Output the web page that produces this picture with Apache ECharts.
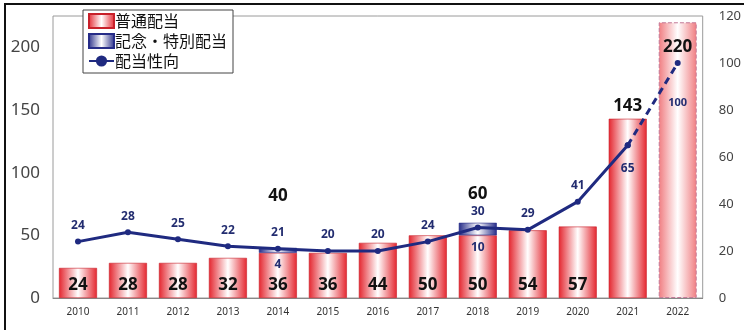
<!DOCTYPE html>
<html><head><meta charset="utf-8">
<script src="https://cdn.jsdelivr.net/npm/echarts@6/dist/echarts.min.js"></script>
<style>html,body{margin:0;padding:0;background:#fff}#c{width:744px;height:330px}</style>
</head><body><div id="c"></div>
<script>
var categories = ['2010','2011','2012','2013','2014','2015','2016','2017','2018','2019','2020','2021','2022'];
var ordinary = [24,28,28,32,36,36,44,50,50,54,57,143,220];
var special = [0,0,0,0,4,0,0,0,10,0,0,0,0];
var totals = [null,null,null,null,40,null,null,null,60,null,null,143,220];
var payout = [24,28,25,22,21,20,20,24,30,29,41,65,100];
var forecastIndex = 12;

var NUM = '"Noto Sans", sans-serif';
var JP = '"Noto Sans CJK JP", sans-serif';
function grad(edge){
  return new echarts.graphic.LinearGradient(0,0,1,0,[{offset:0,color:edge},{offset:0.5,color:'#ffffff'},{offset:1,color:edge}]);
}
var red = grad('#e4262f');
var pale = grad('#f07c80');
var blue = grad('#262c88');

var ordData = ordinary.map(function(v,i){
  var d = {value:v};
  if(i===forecastIndex){
    d.itemStyle = {color:pale, borderColor:'#c47a98', borderType:'dashed', borderWidth:1};
    d.label = {show:false};
  } else if(totals[i]!=null && i>=11){
    d.label = {show:false};
  }
  return d;
});
var spData = special.map(function(v,i){
  return v ? {value:v, label:{show:true}} : {value:v, label:{show:false}, itemStyle:{borderWidth:0, opacity:0}};
});
var solidLine = payout.map(function(v,i){ return i<=11 ? v : null; });
var dashLine = payout.map(function(v,i){ return i>=11 ? v : null; });
var totalData = totals.map(function(v,i){
  if(v==null) return null;
  var lab = {show:true, position:'top', distance:4};
  if(i===4) lab.distance = 43;
  if(i===8) lab.distance = 20;
  if(i===12){ lab.position='bottom'; lab.distance = 16; }
  return {value:v, label:lab};
});

var chart = echarts.init(document.getElementById('c'), null, {renderer:'canvas'});
chart.setOption({
  animation:false,
  grid:{left:53, right:39, top:16, bottom:32, show:true, borderColor:'#9a9a9a', borderWidth:1},
  graphic:[{type:'rect', shape:{x:5,y:4,width:760,height:360}, style:{fill:'none', stroke:'#111', lineWidth:2}, z:100}],
  legend:{
    data:[{name:'普通配当', icon:'rect'},{name:'記念・特別配当', icon:'rect'},{name:'配当性向'}],
    orient:'vertical', left:83, top:10, padding:[3,6,4,5], itemGap:4,
    itemWidth:25, itemHeight:14,
    backgroundColor:'#fff', borderColor:'#444', borderWidth:1,
    textStyle:{fontFamily:JP, fontSize:16, color:'#111', padding:[0,0,0,-4]}
  },
  xAxis:{type:'category', data:categories,
    axisLine:{show:true, lineStyle:{color:'#888'}}, axisTick:{show:false},
    axisLabel:{fontFamily:NUM, fontSize:10, color:'#333', margin:9}},
  yAxis:[
    {type:'value', min:0, max:225, interval:50, position:'left',
     splitLine:{show:false}, axisLine:{show:false}, axisTick:{show:false},
     axisLabel:{showMaxLabel:false, fontFamily:NUM, fontSize:17, color:'#444', margin:13}},
    {type:'value', min:0, max:120, interval:20, position:'right',
     splitLine:{show:false}, axisLine:{show:false}, axisTick:{show:false},
     axisLabel:{fontFamily:NUM, fontSize:13, color:'#444', margin:16}}
  ],
  series:[
    {name:'普通配当', type:'bar', stack:'d', barWidth:38, data:ordData,
     itemStyle:{color:red, borderColor:'#c8202a', borderWidth:0.6},
     label:{show:true, position:'insideBottom', distance:4, fontFamily:NUM, fontWeight:'bold', fontSize:17, color:'#111'}},
    {name:'記念・特別配当', type:'bar', stack:'d', barWidth:38, data:spData,
     itemStyle:{color:blue, borderColor:'#262c88', borderWidth:0.6},
     label:{position:'bottom', distance:6, fontFamily:NUM, fontWeight:'bold', fontSize:12, color:'#232d70'}},
    {name:'total', type:'scatter', symbolSize:0, data:totalData, silent:true,
     itemStyle:{opacity:1, color:'rgba(0,0,0,0)'},
     label:{fontFamily:NUM, fontWeight:'bold', fontSize:17, color:'#111'}},
    {name:'配当性向', type:'line', yAxisIndex:1, data:solidLine, connectNulls:false,
     symbol:'circle', symbolSize:6, z:5,
     lineStyle:{color:'#1f2a80', width:3}, itemStyle:{color:'#1f2a80'},
     label:{show:true, position:'top', distance:7, fontFamily:NUM, fontWeight:'bold', fontSize:12, color:'#232d70',
       formatter:function(p){return p.dataIndex===11?'':p.value;}}},
    {name:'配当性向', type:'line', yAxisIndex:1, connectNulls:false,
     symbol:'circle', symbolSize:6, z:5,
     lineStyle:{color:'#1f2a80', width:3, type:[7,5]}, itemStyle:{color:'#1f2a80'},
     label:{show:true, position:'bottom', fontFamily:NUM, fontWeight:'bold', fontSize:12, color:'#232d70',
       formatter:function(p){return p.value;}},
     data:dashLine.map(function(v,i){
       if(v==null) return null;
       if(i===12) return {value:v, label:{distance:31, fontSize:11}};
       return {value:v, label:{distance:14}};
     })}
  ]
});
</script></body></html>
